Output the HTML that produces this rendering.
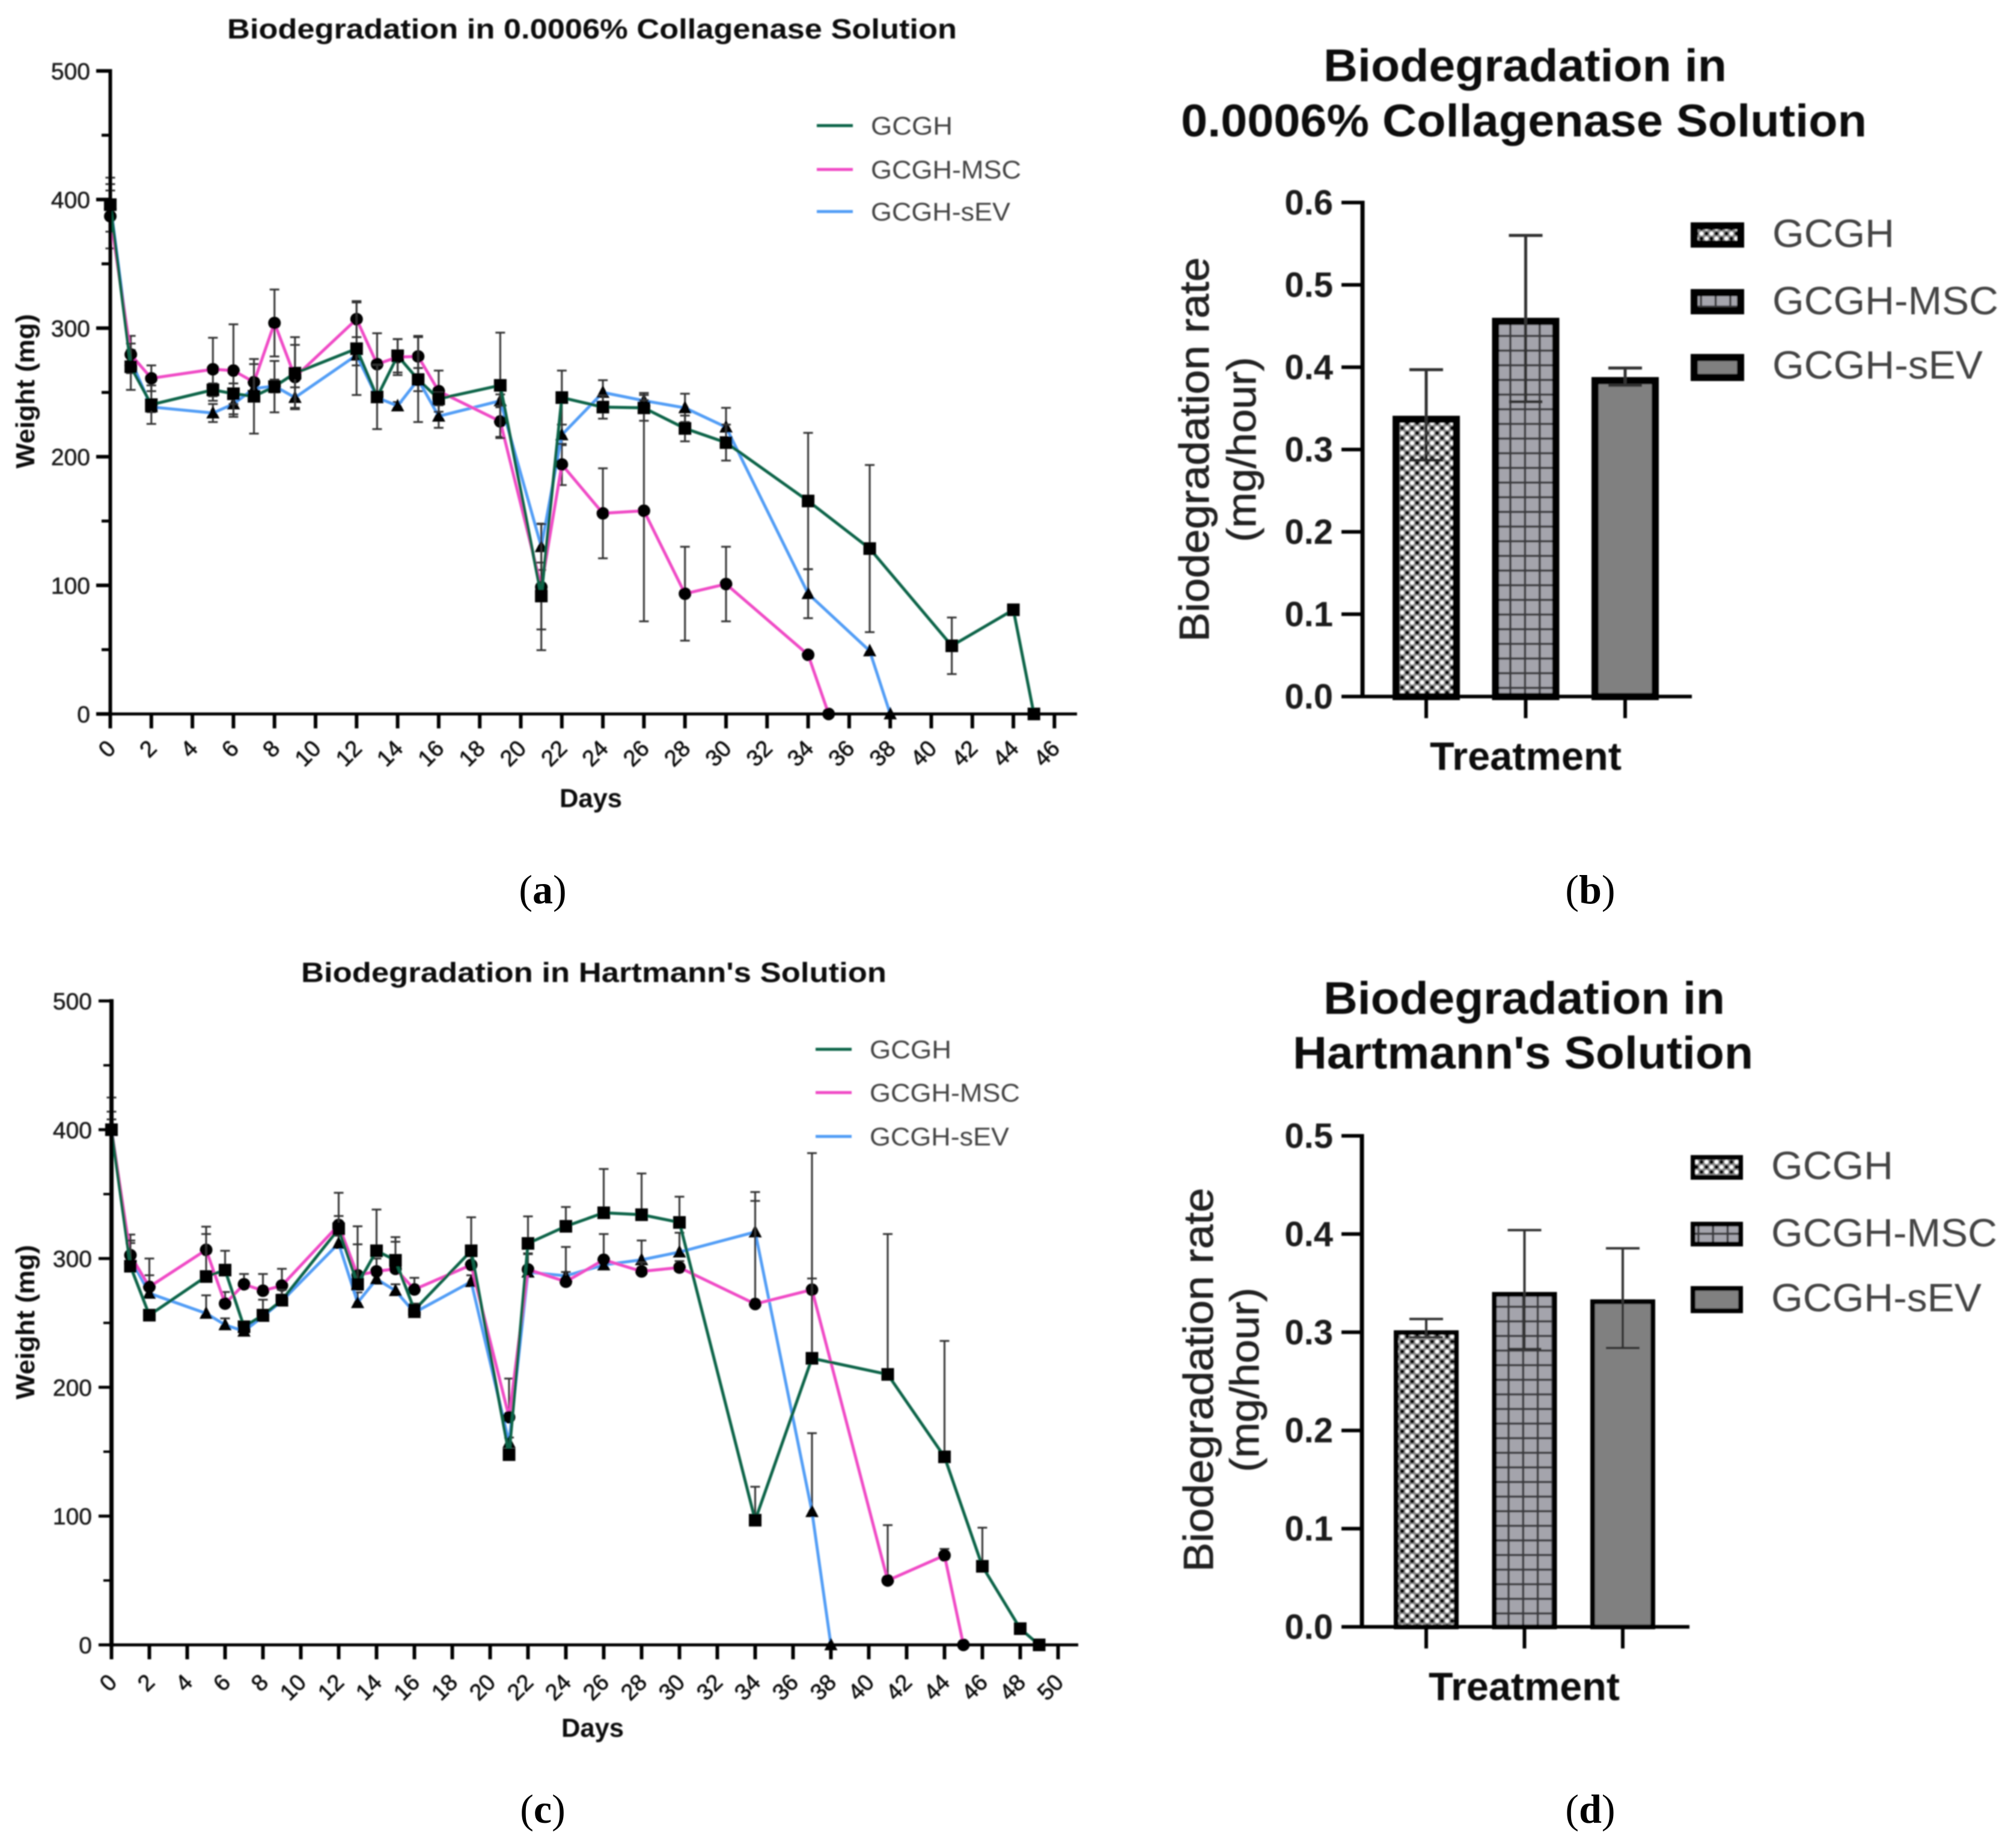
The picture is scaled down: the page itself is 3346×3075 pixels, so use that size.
<!DOCTYPE html>
<html lang="en">
<head>
<meta charset="utf-8">
<title>Biodegradation charts</title>
<style>
html,body{margin:0;padding:0;background:#fff;}
svg{display:block;position:absolute;left:0;top:0;}
text{font-family:"Liberation Sans",sans-serif;}
.cap{font-family:"Liberation Serif",serif;font-size:68px;fill:#000;text-anchor:middle;}
.ttl{font-weight:bold;fill:#111;}
.leg{fill:#444;}
.ax{stroke:#000;fill:none;}
</style>
</head>
<body>
<svg id="root" xmlns="http://www.w3.org/2000/svg" width="3346" height="3075" viewBox="0 0 3346 3075">
<defs>
<filter id="soft" filterUnits="userSpaceOnUse" x="0" y="0" width="3346" height="3075"><feGaussianBlur stdDeviation="1"/></filter>
<pattern id="dotsB" patternUnits="userSpaceOnUse" x="2329" y="700" width="16.6" height="16.6">
<rect width="16.6" height="16.6" fill="#8a8a8a"/><circle cx="4" cy="4" r="3.3" fill="#fff"/><circle cx="12.3" cy="12.3" r="3.3" fill="#fff"/><circle cx="12.3" cy="4" r="3.3" fill="#000"/><circle cx="4" cy="12.3" r="3.3" fill="#000"/>
</pattern>
<pattern id="dotsD" patternUnits="userSpaceOnUse" x="2329" y="2220" width="16.6" height="16.6">
<rect width="16.6" height="16.6" fill="#8a8a8a"/><circle cx="4" cy="4" r="3.3" fill="#fff"/><circle cx="12.3" cy="12.3" r="3.3" fill="#fff"/><circle cx="12.3" cy="4" r="3.3" fill="#000"/><circle cx="4" cy="12.3" r="3.3" fill="#000"/>
</pattern>
<pattern id="gridB" patternUnits="userSpaceOnUse" x="2513" y="559" width="24.4" height="24.4">
<rect width="24.4" height="24.4" fill="#a4a4ac"/><rect x="-1.8" width="3.6" height="24.4" fill="#3a3a3e"/><rect x="22.6" width="3.6" height="24.4" fill="#3a3a3e"/><rect y="-1.8" width="24.4" height="3.6" fill="#3a3a3e"/><rect y="22.6" width="24.4" height="3.6" fill="#3a3a3e"/>
</pattern>
<pattern id="gridD" patternUnits="userSpaceOnUse" x="2510" y="2223" width="24.3" height="24.3">
<rect width="24.3" height="24.3" fill="#a4a4ac"/><rect x="-1.8" width="3.6" height="24.3" fill="#3a3a3e"/><rect x="22.5" width="3.6" height="24.3" fill="#3a3a3e"/><rect y="-1.8" width="24.3" height="3.6" fill="#3a3a3e"/><rect y="22.5" width="24.3" height="3.6" fill="#3a3a3e"/>
</pattern>
</defs>

<g id="soft-layer" filter="url(#soft)">
  <g id="panelA">
    <text class="ttl" x="378" y="64" font-size="46" textLength="1214" lengthAdjust="spacingAndGlyphs">Biodegradation in 0.0006% Collagenase Solution</text>
    <text class="ttl" transform="translate(57,651) rotate(-90)" text-anchor="middle" font-size="44" textLength="257" lengthAdjust="spacingAndGlyphs">Weight (mg)</text>
    <text class="ttl" x="931" y="1343" font-size="44" textLength="104" lengthAdjust="spacingAndGlyphs" fill="#222">Days</text>
    <line x1="1359" x2="1419" y1="209" y2="209" stroke="#0f6548" stroke-width="5"/>
    <text class="leg" x="1449" y="224" font-size="43" textLength="136" lengthAdjust="spacingAndGlyphs">GCGH</text>
    <line x1="1359" x2="1419" y1="282" y2="282" stroke="#f04cc6" stroke-width="5"/>
    <text class="leg" x="1449" y="297" font-size="43" textLength="250" lengthAdjust="spacingAndGlyphs">GCGH-MSC</text>
    <line x1="1359" x2="1419" y1="352" y2="352" stroke="#539ef6" stroke-width="5"/>
    <text class="leg" x="1449" y="367" font-size="43" textLength="232" lengthAdjust="spacingAndGlyphs">GCGH-sEV</text>
  </g>
  <g id="panelC">
    <text class="ttl" x="501" y="1634" font-size="46" textLength="974" lengthAdjust="spacingAndGlyphs">Biodegradation in Hartmann's Solution</text>
    <text class="ttl" transform="translate(57,2200) rotate(-90)" text-anchor="middle" font-size="44" textLength="257" lengthAdjust="spacingAndGlyphs">Weight (mg)</text>
    <text class="ttl" x="934" y="2890" font-size="44" textLength="104" lengthAdjust="spacingAndGlyphs" fill="#222">Days</text>
    <line x1="1357" x2="1417" y1="1746" y2="1746" stroke="#0f6548" stroke-width="5"/>
    <text class="leg" x="1447" y="1761" font-size="43" textLength="136" lengthAdjust="spacingAndGlyphs">GCGH</text>
    <line x1="1357" x2="1417" y1="1818" y2="1818" stroke="#f04cc6" stroke-width="5"/>
    <text class="leg" x="1447" y="1833" font-size="43" textLength="250" lengthAdjust="spacingAndGlyphs">GCGH-MSC</text>
    <line x1="1357" x2="1417" y1="1891" y2="1891" stroke="#539ef6" stroke-width="5"/>
    <text class="leg" x="1447" y="1906" font-size="43" textLength="232" lengthAdjust="spacingAndGlyphs">GCGH-sEV</text>
  </g>
  <g id="panelB">
    <text class="ttl" x="2202" y="135" font-size="76" textLength="671" lengthAdjust="spacingAndGlyphs">Biodegradation in</text>
    <text class="ttl" x="1965" y="227" font-size="76" textLength="1141" lengthAdjust="spacingAndGlyphs">0.0006% Collagenase Solution</text>
    <text transform="translate(2011,748) rotate(-90)" text-anchor="middle" font-size="70" textLength="640" lengthAdjust="spacingAndGlyphs" fill="#222" stroke="#222" stroke-width="0.8">Biodegradation rate</text>
    <text transform="translate(2089,748) rotate(-90)" text-anchor="middle" font-size="68" textLength="308" lengthAdjust="spacingAndGlyphs" fill="#222" stroke="#222" stroke-width="0.8">(mg/hour)</text>
    <text class="ttl" x="2379" y="1281" font-size="66" textLength="319" lengthAdjust="spacingAndGlyphs" fill="#222">Treatment</text>
    <rect x="2819" y="376" width="77" height="30" fill="url(#dotsB)" stroke="#000" stroke-width="12"/>
    <text class="leg" x="2949" y="411" font-size="66" textLength="203" lengthAdjust="spacingAndGlyphs">GCGH</text>
    <rect x="2819" y="487" width="77" height="30" fill="url(#gridB)" stroke="#000" stroke-width="12"/>
    <text class="leg" x="2949" y="523" font-size="66" textLength="376" lengthAdjust="spacingAndGlyphs">GCGH-MSC</text>
    <rect x="2819" y="595" width="77" height="33" fill="#808080" stroke="#000" stroke-width="12"/>
    <text class="leg" x="2949" y="630" font-size="66" textLength="350" lengthAdjust="spacingAndGlyphs">GCGH-sEV</text>
  </g>
  <g id="panelD">
    <text class="ttl" x="2202" y="1687" font-size="76" textLength="668" lengthAdjust="spacingAndGlyphs">Biodegradation in</text>
    <text class="ttl" x="2151" y="1778" font-size="76" textLength="766" lengthAdjust="spacingAndGlyphs">Hartmann's Solution</text>
    <text transform="translate(2018,2296) rotate(-90)" text-anchor="middle" font-size="70" textLength="639" lengthAdjust="spacingAndGlyphs" fill="#222" stroke="#222" stroke-width="0.8">Biodegradation rate</text>
    <text transform="translate(2094,2296) rotate(-90)" text-anchor="middle" font-size="68" textLength="307" lengthAdjust="spacingAndGlyphs" fill="#222" stroke="#222" stroke-width="0.8">(mg/hour)</text>
    <text class="ttl" x="2377" y="2829" font-size="66" textLength="318" lengthAdjust="spacingAndGlyphs" fill="#222">Treatment</text>
    <rect x="2817" y="1926" width="79" height="33" fill="url(#dotsD)" stroke="#000" stroke-width="8"/>
    <text class="leg" x="2947" y="1962" font-size="66" textLength="203" lengthAdjust="spacingAndGlyphs">GCGH</text>
    <rect x="2817" y="2037" width="79" height="33" fill="url(#gridD)" stroke="#000" stroke-width="8"/>
    <text class="leg" x="2947" y="2074" font-size="66" textLength="376" lengthAdjust="spacingAndGlyphs">GCGH-MSC</text>
    <rect x="2817" y="2144" width="79" height="37" fill="#808080" stroke="#000" stroke-width="8"/>
    <text class="leg" x="2947" y="2182" font-size="66" textLength="350" lengthAdjust="spacingAndGlyphs">GCGH-sEV</text>
  </g>
</g>

<text class="cap" x="903" y="1503">(<tspan font-weight="bold">a</tspan>)</text>
<text class="cap" x="2646" y="1503">(<tspan font-weight="bold">b</tspan>)</text>
<text class="cap" x="903" y="3033">(<tspan font-weight="bold">c</tspan>)</text>
<text class="cap" x="2646" y="3033">(<tspan font-weight="bold">d</tspan>)</text>
</svg>

<script>
// ---------- Panel (a) data ----------
const aWeightTicks = [0,100,200,300,400,500];
const aWeightMinorTicks = [50,150,250,350,450];
const aDayTicks = [0,2,4,6,8,10,12,14,16,18,20,22,24,26,28,30,32,34,36,38,40,42,44,46];
const aGcghDays = [0,1,2,5,6,7,8,9,12,13,14,15,16,19,21,22,24,26,28,30,34,37,41,44,45];
const aGcghWeight = [396,270,240.5,252,249,247,254.5,265,284,246.5,278.5,260,245,255.5,91.7,246,238.6,238,222,211,165.6,128.6,53,81,0];
const aGcghError = [21,18,15,5,8,29,20,28,36,25,13,33,5,41,26,21,9,10,10,14,53,65,22,0,0];
const aMscDays = [0,1,2,5,6,7,8,9,12,13,14,15,16,19,21,22,24,26,28,30,34,35];
const aMscWeight = [387,279.5,261,268,267,258,304,262,307,272,277.5,278,251,227.5,98.6,194,156,158,93.5,101,46,0];
const aMscError = [25,14.5,10,24.5,36,14,26,25,14,24,14,16,16,12,49,16,35,86,36.5,29,0,0];
const aSevDays = [0,1,2,5,6,7,8,9,12,13,14,15,16,19,21,22,24,26,28,30,34,37,38];
const aSevWeight = [397,275,238.7,234,241,253,255,246,279,246,239.5,260,231.5,243.5,130,217,250,243.6,238,223,93.5,49,0];
const aSevError = [10,8,4,7,8,6,5,8,8,3,3,9,9,5,18,8,9.5,6,11,15,19,0,0];

// ---------- Panel (c) data ----------
const cWeightTicks = [0,100,200,300,400,500];
const cWeightMinorTicks = [50,150,250,350,450];
const cDayTicks = [0,2,4,6,8,10,12,14,16,18,20,22,24,26,28,30,32,34,36,38,40,42,44,46,48,50];
const cGcghDays = [0,1,2,5,6,7,8,9,12,13,14,15,16,19,21,22,24,26,28,30,34,37,41,44,46,48,49];
const cGcghWeight = [400,294,256,286,291,247,256,267.6,323,280,306,298.6,260,306,147.7,311.7,325,335.5,334,328,96.8,222.5,210,146,61,12.6,0];
const cGcghError = [25,20,0,33,15,3,12,8,28,45,32,18,5,26,0,21,15,34,32,20,26,62,109,90,30,0,0];
const cMscDays = [0,1,2,5,6,7,8,9,12,13,14,15,16,19,21,22,24,26,28,30,34,37,41,44,45];
const cMscWeight = [400,302.6,278,306.7,265,280,275,279,326,287,290,292,276,295,176.8,291.5,282,299,290,293,264.7,275.8,50,69.5,0];
const cMscError = [14,16,22,18,9,8,13,13,7,24,10,21,9,8,30,12.5,27,20,7,5,80,106,43,5,0];
const cSevDays = [0,1,2,5,6,7,8,9,12,13,14,15,16,19,21,22,24,26,28,30,34,37,38];
const cSevWeight = [400,300,273,257.4,248.5,243.5,255,267,311.7,265.7,284,275,258,282,157,289.4,286.5,295,299,305,320.6,103.4,0];
const cSevError = [8,12,14,14,5,3,4,5,6,8,5,5,3,5,4,14,3,5,15,15,31,61,0];

// ---------- Panel (b) data ----------
const bRateTicks = [0,0.1,0.2,0.3,0.4,0.5,0.6];
const bTreatments = ['GCGH','GCGH-MSC','GCGH-sEV'];
const bRates = [0.341,0.46,0.388];
const bErrorHigh = [0.397,0.56,0.399];
const bErrorLow = [0.287,0.358,0.378];

// ---------- Panel (d) data ----------
const dRateTicks = [0,0.1,0.2,0.3,0.4,0.5];
const dTreatments = ['GCGH','GCGH-MSC','GCGH-sEV'];
const dRates = [0.302,0.341,0.3335];
const dErrorHigh = [0.3135,0.404,0.3855];
const dErrorLow = [0.295,0.283,0.284];

const SVGNS = 'http://www.w3.org/2000/svg';
function mk(tag, parent, attrs) {
  const el = document.createElementNS(SVGNS, tag);
  for (const k in attrs) el.setAttribute(k, attrs[k]);
  parent.appendChild(el);
  return el;
}

function drawSeries(parent, key, color, shape, days, weights, errors, symmetric, x, y) {
  const g = mk('g', parent, {});
  
  
  days.forEach(function (d, i) {
    if (!errors[i]) return;
    const hi = y(weights[i] + errors[i]);
    const lo = symmetric ? y(Math.max(0, weights[i] - errors[i])) : y(weights[i]);
    const px = x(d);
    const bar = mk('path', g, {
      d: 'M' + (px - 8) + ' ' + hi + 'H' + (px + 8) + 'M' + px + ' ' + hi + 'V' + lo +
         (symmetric ? 'M' + (px - 8) + ' ' + lo + 'H' + (px + 8) : ''),
      stroke: '#333', 'stroke-width': 3, fill: 'none'
    });
    
    
  });
  const pts = days.map(function (d, i) { return x(d) + ',' + y(weights[i]); }).join(' ');
  const line = mk('polyline', g, { points: pts, fill: 'none', stroke: color, 'stroke-width': 5, 'stroke-linejoin': 'round' });
  
  
  days.forEach(function (d, i) {
    const px = x(d), py = y(weights[i]);
    let m;
    if (shape === 'square') {
      m = mk('rect', g, { x: px - 10.5, y: py - 10.5, width: 21, height: 21, fill: '#000' });
    } else if (shape === 'circle') {
      m = mk('circle', g, { cx: px, cy: py, r: 10.5, fill: '#000' });
    } else {
      m = mk('polygon', g, { points: (px - 11) + ',' + (py + 9) + ' ' + (px + 11) + ',' + (py + 9) + ' ' + px + ',' + (py - 12), fill: '#000' });
    }
    
    
  });
}

function drawLineAxes(parent, key, x, y, cfg, weightTicks, minorTicks, dayTicks) {
  const ax = mk('g', parent, {});
  
  
  const yAxis = mk('line', ax, { class: 'ax', x1: x(0), x2: x(0), y1: y(500) - 3, y2: y(0) + 3, 'stroke-width': cfg.yw });
  
  
  const xAxis = mk('line', ax, { class: 'ax', x1: x(0), x2: cfg.xEnd, y1: y(0), y2: y(0), 'stroke-width': 5 });
  
  
  weightTicks.forEach(function (v) {
    const t = mk('line', ax, { class: 'ax', x1: cfg.majorLeft, x2: x(0), y1: y(v), y2: y(v), 'stroke-width': cfg.tw });
    
    
    const l = mk('text', ax, { x: cfg.labelRight, y: y(v) + 14, 'text-anchor': 'end', 'font-size': 39, fill: '#1a1a1a', stroke: '#1a1a1a', 'stroke-width': 0.6 });
    l.textContent = String(v);
    
    
  });
  minorTicks.forEach(function (v) {
    const t = mk('line', ax, { class: 'ax', x1: cfg.minorLeft, x2: x(0), y1: y(v), y2: y(v), 'stroke-width': cfg.tw - 1 });
    
    
  });
  dayTicks.forEach(function (d) {
    const t = mk('line', ax, { class: 'ax', x1: x(d), x2: x(d), y1: y(0), y2: y(0) + 24, 'stroke-width': 6 });
    
    
    const l = mk('text', ax, {
      transform: 'translate(' + (x(d) + cfg.labelEndDx) + ',' + (y(0) + cfg.labelEndDy) + ') rotate(-45)',
      y: 13.7, 'text-anchor': 'end', 'font-size': 38, fill: '#111', stroke: '#111', 'stroke-width': 0.7
    });
    l.textContent = String(d);
    
    
  });
}

function drawBars(parent, key, cfg, ticks, names, rates, hi, lo) {
  const y = function (v) { return cfg.y0 - v * cfg.yPerUnit; };
  const fills = [cfg.dots, cfg.grid, '#808080'];
  names.forEach(function (n, i) {
    const cx = cfg.cx0 + cfg.step * i;
    const half = cfg.barW / 2;
    const inset = cfg.border / 2;
    const bar = mk('rect', parent, {
      x: cx - half + inset, y: y(rates[i]) + inset,
      width: cfg.barW - cfg.border, height: y(0) - y(rates[i]) - inset,
      fill: fills[i], stroke: '#000', 'stroke-width': cfg.border
    });
    
    
    const err = mk('path', parent, {
      d: 'M' + (cx - 28) + ' ' + y(hi[i]) + 'H' + (cx + 28) + 'M' + cx + ' ' + y(hi[i]) + 'V' + y(lo[i]) +
         'M' + (cx - 28) + ' ' + y(lo[i]) + 'H' + (cx + 28),
      stroke: '#333', 'stroke-width': cfg.errW, fill: 'none'
    });
    
    
    const t = mk('line', parent, { class: 'ax', x1: cx, x2: cx, y1: y(0), y2: y(0) + 36, 'stroke-width': 6 });
    
    
  });
  const yAxis = mk('line', parent, { class: 'ax', x1: cfg.axisX, x2: cfg.axisX, y1: y(ticks[ticks.length - 1]) - 3, y2: y(0) + 3, 'stroke-width': 7 });
  
  
  const xAxis = mk('line', parent, { class: 'ax', x1: 2232, x2: cfg.xEnd, y1: y(0), y2: y(0), 'stroke-width': 6 });
  
  
  ticks.forEach(function (v) {
    const t = mk('line', parent, { class: 'ax', x1: 2232, x2: cfg.axisX, y1: y(v), y2: y(v), 'stroke-width': 6 });
    
    
    const l = mk('text', parent, { x: 2218, y: y(v) + 20, 'text-anchor': 'end', 'font-size': 58, 'font-weight': 'bold', fill: '#1a1a1a' });
    l.textContent = v.toFixed(1);
    
    
  });
}

// ---------- Render ----------
const panelA = document.getElementById('panelA');
const xA = function (d) { return 183.5 + 34.15 * d; };
const yA = function (v) { return 1188 - 2.14 * v; };
drawSeries(panelA, 'panel-a-gcgh-sev', '#539ef6', 'triangle', aSevDays, aSevWeight, aSevError, true, xA, yA);
drawSeries(panelA, 'panel-a-gcgh-msc', '#f04cc6', 'circle', aMscDays, aMscWeight, aMscError, true, xA, yA);
drawSeries(panelA, 'panel-a-gcgh', '#0f6548', 'square', aGcghDays, aGcghWeight, aGcghError, true, xA, yA);
drawLineAxes(panelA, 'panel-a', xA, yA, { yw: 6, tw: 6, xEnd: 1792, majorLeft: 160, minorLeft: 169, labelRight: 150, labelEndDx: 1.4, labelEndDy: 50 }, aWeightTicks, aWeightMinorTicks, aDayTicks);

const panelC = document.getElementById('panelC');
const xC = function (d) { return 185.5 + 31.5 * d; };
const yC = function (v) { return 2737 - 2.143 * v; };
drawSeries(panelC, 'panel-c-gcgh-sev', '#539ef6', 'triangle', cSevDays, cSevWeight, cSevError, false, xC, yC);
drawSeries(panelC, 'panel-c-gcgh-msc', '#f04cc6', 'circle', cMscDays, cMscWeight, cMscError, false, xC, yC);
drawSeries(panelC, 'panel-c-gcgh', '#0f6548', 'square', cGcghDays, cGcghWeight, cGcghError, false, xC, yC);
drawLineAxes(panelC, 'panel-c', xC, yC, { yw: 7, tw: 5, xEnd: 1794, majorLeft: 164, minorLeft: 172, labelRight: 153, labelEndDx: 1.4, labelEndDy: 55 }, cWeightTicks, cWeightMinorTicks, cDayTicks);

drawBars(document.getElementById('panelB'), 'panel-b', {
  y0: 1159, yPerUnit: 1370, cx0: 2373, step: 165.5, barW: 112, border: 12, errW: 5,
  axisX: 2267, xEnd: 2815, dots: 'url(#dotsB)', grid: 'url(#gridB)'
}, bRateTicks, bTreatments, bRates, bErrorHigh, bErrorLow);

drawBars(document.getElementById('panelD'), 'panel-d', {
  y0: 2707, yPerUnit: 1634, cx0: 2373, step: 163.5, barW: 108, border: 8, errW: 4,
  axisX: 2266, xEnd: 2811, dots: 'url(#dotsD)', grid: 'url(#gridD)'
}, dRateTicks, dTreatments, dRates, dErrorHigh, dErrorLow);
</script>
</body>
</html>
